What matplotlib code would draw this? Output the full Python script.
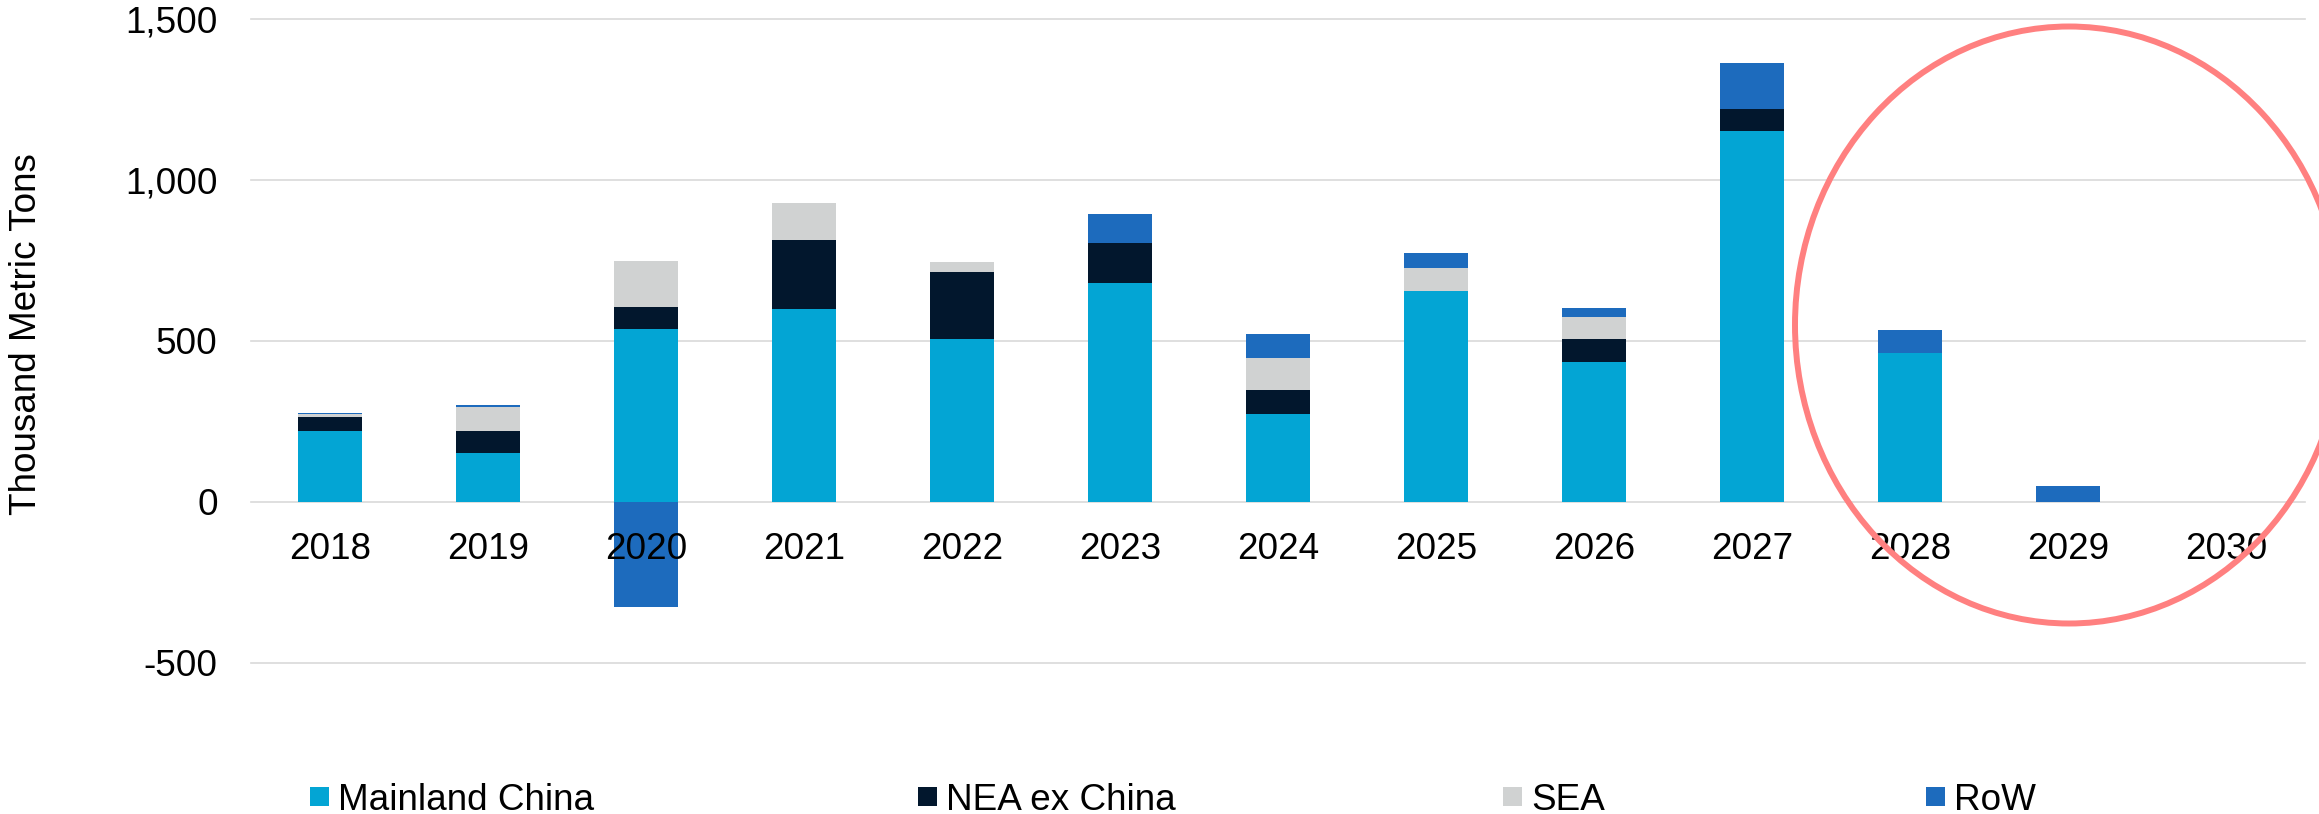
import numpy as np
import matplotlib
matplotlib.use("Agg")
import matplotlib.pyplot as plt
from matplotlib.patches import Ellipse, Rectangle

plt.rcParams['font.family'] = ['Liberation Sans', 'DejaVu Sans']

years = ['2018', '2019', '2020', '2021', '2022', '2023', '2024',
         '2025', '2026', '2027', '2028', '2029', '2030']

mainland_china = [220, 152, 537, 597, 504, 679, 273, 653, 435, 1150, 463, 0, 0]
nea_ex_china = [42, 69, 69, 215, 210, 123, 73, 0, 70, 70, 0, 0, 0]
sea = [10, 73, 142, 116, 30, 0, 102, 72, 70, 0, 0, 0, 0]
row = [4, 8, -326, 0, 0, 91, 73, 48, 26, 141, 70, 48, 0]

series_names = ['Mainland China', 'NEA ex China', 'SEA', 'RoW']
series_values = [mainland_china, nea_ex_china, sea, row]
series_colors = ['#03A5D4', '#02172D', '#D0D2D2', '#1D6BBD']

W, H, DPI = 2319, 814, 100
fig = plt.figure(figsize=(W / DPI, H / DPI), dpi=DPI)

# plot area in pixel coordinates (left, top, right, bottom)
L, T, R, B = 251, 18.5, 2305, 663
ax = fig.add_axes([L / W, 1 - B / H, (R - L) / W, (B - T) / H])

x = np.arange(len(years))
pos_bottom = np.zeros(len(years))
neg_bottom = np.zeros(len(years))
for name, vals, col in zip(series_names, series_values, series_colors):
    v = np.array(vals, dtype=float)
    bottom = np.where(v >= 0, pos_bottom, neg_bottom)
    ax.bar(x, v, width=0.4, bottom=bottom, color=col, zorder=1, linewidth=0)
    pos_bottom += np.where(v > 0, v, 0)
    neg_bottom += np.where(v < 0, v, 0)

yticks = [-500, 0, 500, 1000, 1500]
for yv in yticks:
    ax.axhline(yv, color='#D9D9D9', lw=1.2, zorder=0.5, clip_on=False)

ax.set_xlim(-0.5, len(years) - 0.5)
ax.set_ylim(-500, 1500)
ax.set_yticks(yticks)
ax.set_yticklabels(['-500', '0', '500', '1,000', '1,500'])
ax.set_xticks(x)
ax.set_xticklabels(years)

for s in ax.spines.values():
    s.set_visible(False)
ax.spines['bottom'].set_position(('data', 0))
ax.tick_params(axis='x', length=0, pad=22, labelsize=26.6, colors='black')
ax.tick_params(axis='y', length=0, pad=24, labelsize=26.6, colors='black')
ax.set_axisbelow(False)

fig.text(27 / W, 1 - 334 / H, 'Thousand Metric Tons', rotation=90,
         fontsize=26.6, ha='center', va='center')

# legend row along the bottom
legend_x = [310, 918, 1503, 1926]
legend_y = 796.5
for lx, name, col in zip(legend_x, series_names, series_colors):
    fig.add_artist(Rectangle((lx / W, 1 - (legend_y + 9.5) / H), 19 / W, 19 / H,
                             transform=fig.transFigure, facecolor=col,
                             edgecolor='none'))
    fig.text((lx + 28) / W, 1 - legend_y / H, name, fontsize=26.6,
             ha='left', va='center_baseline')

ell = Ellipse((2069 / W, 1 - 325 / H), width=548 / W, height=597 / H,
              transform=fig.transFigure, fill=False, edgecolor='#FF8080',
              lw=4.3, zorder=10)
fig.add_artist(ell)

fig.savefig('out.png', dpi=DPI, facecolor='white')
